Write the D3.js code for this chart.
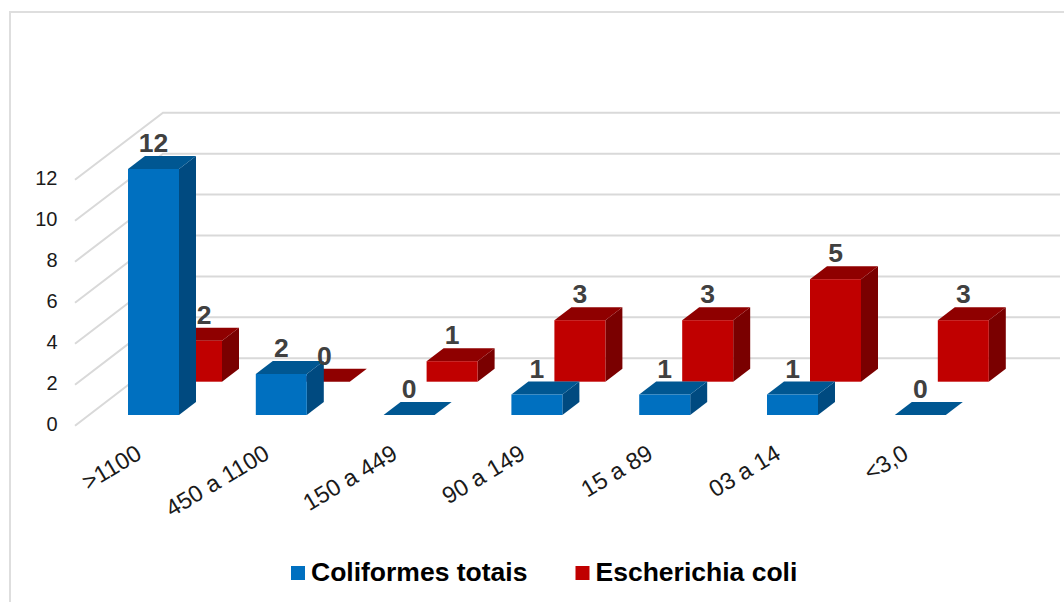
<!DOCTYPE html>
<html>
<head>
<meta charset="utf-8">
<script src="https://cdn.jsdelivr.net/npm/d3@7"></script>
<style>
  html, body { margin: 0; padding: 0; background: #fff; }
  svg { display: block; font-family: "Liberation Sans", Arial, sans-serif; }
</style>
</head>
<body>
<svg id="chart" width="1064" height="602"></svg>
<script>
const categories = [">1100", "450 a 1100", "150 a 449", "90 a 149", "15 a 89", "03 a 14", "<3,0"];
const coliformes = [12, 2, 0, 1, 1, 1, 0];
const ecoli = [2, 0, 1, 3, 3, 5, 3];
const yTicks = [0, 2, 4, 6, 8, 10, 12];
const seriesNames = ["Coliformes totais", "Escherichia coli"];

const svg = d3.select("#chart");

// Frame of the chart area
svg.append("path")
  .attr("d", "M10,602V12H1064")
  .attr("fill", "none").attr("stroke", "#dedede").attr("stroke-width", 2);

// Oblique projection: each row of bars is offset from the axis plane
const unit = 20.5;
const depth = { dx: 17, dy: 13 };
const x = d3.scaleBand().domain(categories).range([128, 128 + 127.8 * 7]).paddingInner(0).paddingOuter(0).align(0);
const barW = 51;
const yBlue = d3.scaleLinear().domain([0, 12]).range([415, 415 - 12 * unit]);
const yRed = d3.scaleLinear().domain([0, 12]).range([381.7, 381.7 - 12 * unit]);
const yWall = d3.scaleLinear().domain([0, 12]).range([358.3, 112.7]);
const yFront = d3.scaleLinear().domain([0, 12]).range([425.7, 179.7]);

// Back wall and side wall gridlines
const grid = svg.append("g").attr("stroke", "#d9d9d9").attr("stroke-width", 2).attr("fill", "none");
grid.selectAll("path").data(yTicks).join("path")
  .attr("d", d => `M75,${yFront(d)}L163,${yWall(d)}H1060`);

// Value axis, sitting on the front edge of the side wall
const axis = d3.axisLeft(yFront).tickValues(yTicks).tickSize(0).tickPadding(0);
const axisG = svg.append("g").attr("transform", "translate(57.5,-2)").call(axis);
axisG.select(".domain").remove();
axisG.selectAll("text").attr("font-size", 20).attr("fill", "#1a1a1a")
  .attr("font-family", "'Liberation Sans', Arial, sans-serif");

function drawBars(values, xOffset, y, colors) {
  const g = svg.append("g");
  const rows = categories.map((c, i) => {
    const left = x(c) + xOffset, right = left + barW;
    const top = y(values[i]), base = y(0);
    return { left, right, top, base };
  });
  // Side face
  g.selectAll(".side").data(rows).join("path").attr("class", "side")
    .attr("fill", colors.side)
    .attr("d", r => `M${r.right},${r.base}V${r.top}l${depth.dx},${-depth.dy}V${r.base - depth.dy}Z`);
  // Top face
  g.selectAll(".top").data(rows).join("path").attr("class", "top")
    .attr("fill", colors.top)
    .attr("d", r => `M${r.left},${r.top}H${r.right}l${depth.dx},${-depth.dy}H${r.left + depth.dx}Z`);
  // Front face
  g.selectAll(".front").data(rows).join("rect").attr("class", "front")
    .attr("fill", colors.front)
    .attr("x", r => r.left).attr("width", barW)
    .attr("y", r => r.top).attr("height", r => r.base - r.top);
}

const redStyle = { front: "#c00000", side: "#7a0000", top: "#8f0000" };
const blueStyle = { front: "#0070c0", side: "#004a80", top: "#005792" };
const redOffset = 43;

// The far row goes first so the near row covers it
drawBars(ecoli, redOffset, yRed, redStyle);
drawBars(coliformes, 0, yBlue, blueStyle);

// Value labels above each bar
function drawValues(values, xOffset, y, nudge) {
  svg.append("g").selectAll("text").data(values).join("text")
    .attr("x", (d, i) => x(categories[i]) + xOffset + barW / 2 + (nudge[i] || 0))
    .attr("y", d => y(d) - 17)
    .attr("text-anchor", "middle")
    .attr("font-size", 26.5).attr("font-weight", "bold").attr("fill", "#404040")
    .text(d => d);
}
drawValues(coliformes, 0, yBlue, {});
drawValues(ecoli, redOffset, yRed, { 0: 7.5 });

// Slanted category labels
svg.append("g").selectAll("text").data(categories).join("text")
  .attr("text-anchor", "end")
  .attr("font-size", 23.5).attr("fill", "#1a1a1a")
  .attr("transform", c => `translate(${x(c) + 7},444) rotate(-31)`)
  .attr("x", 0).attr("y", 16)
  .text(c => c);

// Legend
const legendItems = [
  { name: seriesNames[0], color: blueStyle.front, sx: 291, tx: 311 },
  { name: seriesNames[1], color: redStyle.front, sx: 575.5, tx: 595.5 }
];
const legend = svg.append("g");
legend.selectAll("rect").data(legendItems).join("rect")
  .attr("x", d => d.sx).attr("y", 566).attr("width", 14).attr("height", 14).attr("fill", d => d.color);
legend.selectAll("text").data(legendItems).join("text")
  .attr("x", d => d.tx).attr("y", 581)
  .attr("font-size", 26.5).attr("font-weight", "bold").attr("fill", "#000")
  .text(d => d.name);
</script>
</body>
</html>
